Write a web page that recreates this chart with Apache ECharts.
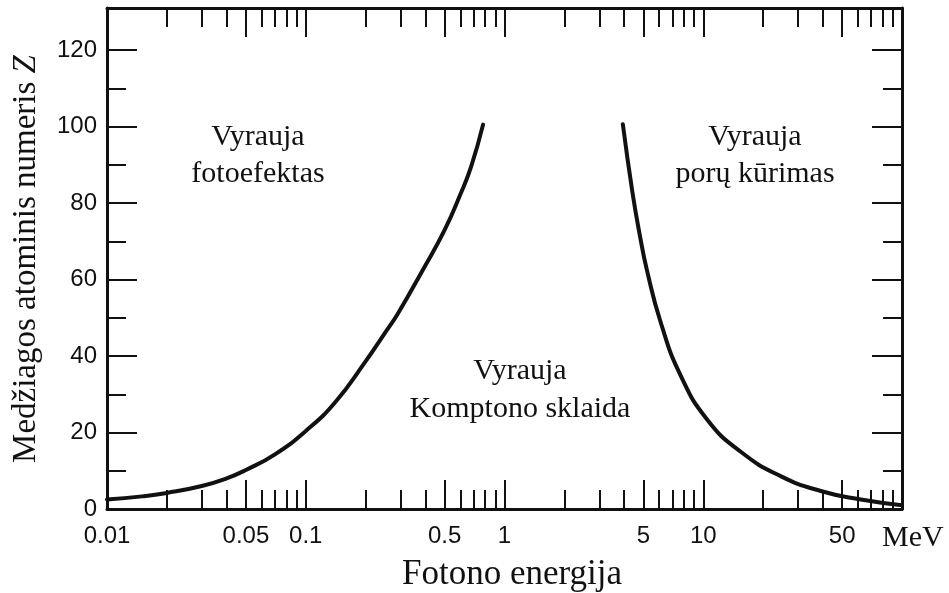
<!DOCTYPE html>
<html>
<head>
<meta charset="utf-8">
<script src="https://cdn.jsdelivr.net/npm/echarts@6/dist/echarts.min.js"></script>
<style>
  html, body { margin: 0; padding: 0; background: #fff; }
  #chart { width: 949px; height: 593px; }
</style>
</head>
<body>
<div id="chart"></div>
<script>
// Boundary between photo effect and Compton scattering (energy in MeV, atomic number Z)
const photoComptonEnergy = [0.01, 0.015, 0.02, 0.03, 0.04, 0.05, 0.07, 0.1, 0.14, 0.2, 0.25, 0.29, 0.39, 0.5, 0.6, 0.68, 0.78];
const photoComptonZ      = [2.5, 3.3, 4.2, 6.0, 8.0, 10.2, 14.3, 20.4, 27.8, 38.6, 46, 51, 62.7, 73, 82.3, 89.6, 100.5];

// Boundary between Compton scattering and pair production
const comptonPairEnergy = [3.94, 4.4, 4.8, 5.2, 6.1, 7.7, 10.5, 15.5, 24.5, 39, 62, 100];
const comptonPairZ      = [100.6, 82.9, 71.5, 62.6, 48.9, 34.9, 23.3, 14.9, 8.6, 4.7, 2.5, 1.0];

// Energy axis ticks (MeV)
const energyLabelTicks = [0.01, 0.05, 0.1, 0.5, 1, 5, 10, 50];
const energyMajorTicks = [0.05, 0.1, 0.5, 1, 5, 10, 50];
const energyMinorTicks = [0.02, 0.03, 0.04, 0.06, 0.07, 0.08, 0.09,
                          0.2, 0.3, 0.4, 0.6, 0.7, 0.8, 0.9,
                          2, 3, 4, 6, 7, 8, 9,
                          20, 30, 40, 60, 70, 80, 90];
// Atomic number axis ticks
const zMajorTicks = [0, 20, 40, 60, 80, 100, 120];
const zMinorTicks = [10, 30, 50, 70, 90, 110];

const lg = Math.log10;
const INK = '#111';

// The energy axis is laid out in decades (log10 of MeV)
function energyAxis(position, ticks, len, withLine, withLabels) {
  return {
    type: 'value', position: position, min: -2, max: 2,
    axisLine: { show: withLine, onZero: false, lineStyle: { color: INK, width: 3 } },
    axisTick: { show: true, inside: true, length: len, customValues: ticks.map(lg),
                lineStyle: { color: INK, width: 2 } },
    axisLabel: {
      show: withLabels, customValues: energyLabelTicks.map(lg),
      formatter: v => String(Number(Math.pow(10, v).toPrecision(3))),
      fontFamily: 'Liberation Sans', fontSize: 24, color: INK, margin: 15
    },
    splitLine: { show: false }
  };
}

function zAxis(position, ticks, len, withLine, withLabels) {
  return {
    type: 'value', position: position, min: 0, max: 131,
    axisLine: { show: withLine, onZero: false, lineStyle: { color: INK, width: 3 } },
    axisTick: { show: true, inside: true, length: len, customValues: ticks,
                lineStyle: { color: INK, width: 2 } },
    axisLabel: {
      show: withLabels, customValues: zMajorTicks,
      fontFamily: 'Liberation Sans', fontSize: 24, color: INK, margin: 10
    },
    splitLine: { show: false }
  };
}

const serif = 'Liberation Serif, Times New Roman, serif';
function note(x, y, text, size, lh, align) {
  return {
    type: 'text', x: x, y: y, silent: true,
    style: { text: text, fontFamily: serif, fontSize: size, lineHeight: lh,
             fill: INK, align: align || 'center', verticalAlign: 'middle' }
  };
}

function boundary(name, energy, z) {
  return {
    name: name, type: 'line', xAxisIndex: 0, yAxisIndex: 0,
    smooth: 0.5, showSymbol: false, silent: true,
    lineStyle: { color: INK, width: 4, cap: 'round' },
    data: energy.map((e, i) => [lg(e), z[i]])
  };
}

const chart = echarts.init(document.getElementById('chart'), null, { renderer: 'canvas' });
chart.setOption({
  backgroundColor: '#fff',
  animation: false,
  grid: { left: 107, right: 47, top: 8, bottom: 84, containLabel: false },
  xAxis: [
    energyAxis('bottom', energyMajorTicks, 29, true, true),
    energyAxis('bottom', energyMinorTicks, 19, false, false),
    energyAxis('top', energyMajorTicks, 29, true, false),
    energyAxis('top', energyMinorTicks, 19, false, false)
  ],
  yAxis: [
    zAxis('left', zMajorTicks, 30, true, true),
    zAxis('left', zMinorTicks, 19, false, false),
    zAxis('right', zMajorTicks, 30, true, false),
    zAxis('right', zMinorTicks, 19, false, false)
  ],
  series: [
    boundary('fotoefektas / Komptono sklaida', photoComptonEnergy, photoComptonZ),
    boundary('Komptono sklaida / porų kūrimas', comptonPairEnergy, comptonPairZ)
  ],
  graphic: [
    note(258, 156, 'Vyrauja\nfotoefektas', 30, 37),
    note(755, 156, 'Vyrauja\nporų kūrimas', 30, 37),
    note(520, 390, 'Vyrauja\nKomptono sklaida', 30, 38),
    note(882, 538, 'MeV', 30, 30, 'left'),
    note(512, 575, 'Fotono energija', 35, 36),
    {
      type: 'text', x: 26, y: 259, rotation: Math.PI / 2, silent: true,
      style: {
        text: 'Medžiagos atominis numeris {i|Z}',
        fontFamily: serif, fontSize: 33, fill: INK, align: 'center', verticalAlign: 'middle',
        rich: { i: { fontFamily: serif, fontSize: 33, fontStyle: 'italic', fill: INK } }
      }
    }
  ]
});
</script>
</body>
</html>
